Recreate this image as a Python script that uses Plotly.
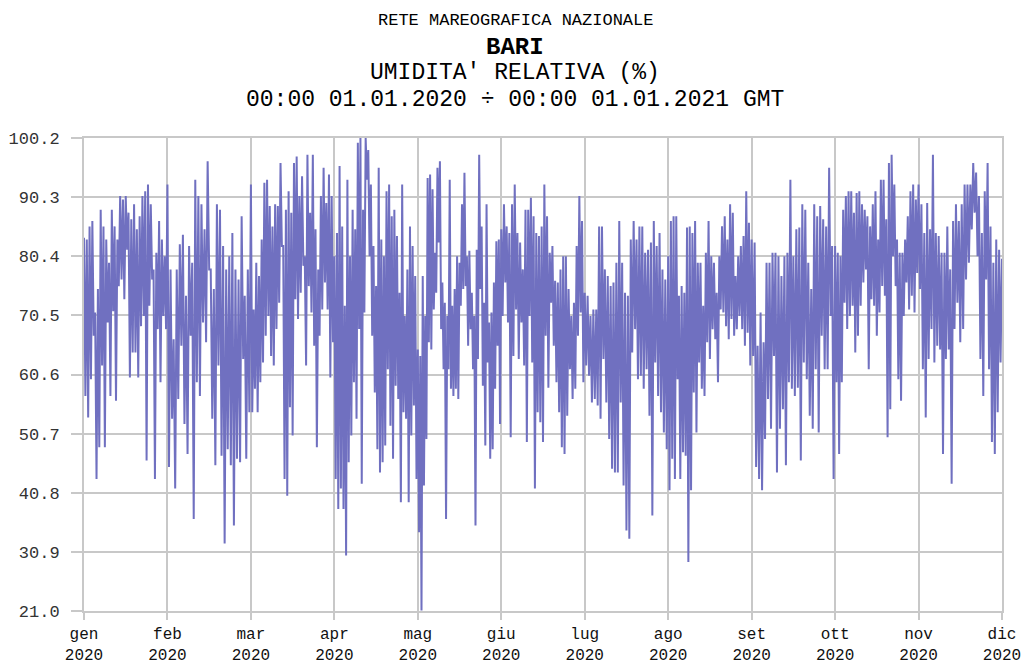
import plotly.graph_objects as go

months = ["gen", "feb", "mar", "apr", "mag", "giu", "lug", "ago", "set", "ott", "nov", "dic"]
year = "2020"
y_ticks = [21.0, 30.9, 40.8, 50.7, 60.6, 70.5, 80.4, 90.3, 100.2]

# relative humidity (%), alternating peak / trough readings, month by month
gen = [83.5, 57.0, 83.2, 53.4, 85.4, 59.8, 86.3, 67.1, 71.0, 43.1, 74.9, 48.4, 88.2, 62.1,
       85.4, 48.4, 83.2, 69.3, 79.3, 57.0, 88.2, 71.2, 85.4, 56.2, 83.2, 75.4, 90.5, 76.5,
       89.9, 73.2, 90.5, 81.5, 87.7, 60.1, 86.6, 64.3, 89.1, 64.3, 84.9, 60.1, 87.1, 68.7,
       90.5, 70.4, 91.3, 46.2, 92.4, 72.1, 89.1, 76.5, 78.2, 43.1, 81.0, 68.2, 86.3, 59.3,
       83.2, 70.4, 80.4, 68.2]
feb = [92.4, 45.1, 78.2, 53.2, 66.5, 41.5, 78.2, 56.5, 82.4, 65.4, 84.0, 52.3, 73.8, 47.3,
       82.1, 67.1, 79.3, 36.4, 93.2, 59.3, 90.5, 57.0, 89.1, 69.3, 84.9, 66.0, 96.3, 78.2,
       78.2, 53.2, 74.9, 45.4, 89.1, 62.1, 88.2, 47.0, 82.1, 32.3, 78.2, 48.1, 80.4, 45.4,
       84.3, 35.3, 78.2, 46.5, 76.5, 45.9, 87.1, 63.2, 73.8, 46.5, 78.2, 54.3]
mar = [92.4, 54.3, 71.5, 58.2, 79.3, 54.3, 77.1, 59.3, 83.2, 62.6, 92.7, 67.1, 93.2, 70.4,
       88.8, 63.7, 85.4, 62.1, 89.1, 68.2, 88.8, 72.6, 96.0, 82.1, 82.1, 43.1, 88.2, 40.3,
       91.3, 55.1, 87.7, 50.4, 96.0, 73.2, 97.1, 69.9, 90.5, 74.3, 93.8, 78.8, 80.4, 62.1,
       97.4, 75.4, 87.7, 71.0, 97.4, 65.4, 84.9, 48.4, 78.2, 67.1, 90.5, 71.5, 95.2, 76.0,
       89.3, 71.5, 94.1, 60.1, 90.5, 66.0]
apr = [80.4, 43.1, 84.3, 38.1, 95.5, 41.5, 85.4, 38.1, 72.1, 30.3, 93.2, 45.9, 80.4, 50.4,
       88.2, 59.3, 84.9, 53.2, 99.4, 68.2, 100.2, 42.3, 88.2, 71.0, 100.2, 93.2, 98.2, 80.4,
       92.4, 67.1, 82.1, 57.6, 75.4, 48.1, 95.2, 44.2, 83.2, 45.9, 80.4, 48.7, 91.3, 61.5,
       92.4, 52.0, 87.1, 46.5, 88.2, 58.7, 83.8, 56.5, 74.3, 39.2, 92.4, 54.3, 70.4, 53.2,
       78.2, 39.2, 85.4, 50.4, 82.1, 55.4, 77.1, 43.1]
mag = [64.8, 34.2, 63.7, 21.1, 77.1, 42.0, 70.4, 49.8, 93.5, 66.0, 94.1, 64.8, 91.6, 71.5,
       81.0, 74.3, 95.2, 82.7, 96.3, 68.2, 76.0, 61.5, 72.6, 36.4, 70.4, 61.5, 93.2, 58.2,
       72.1, 57.0, 74.9, 58.2, 80.4, 56.5, 79.3, 72.1, 89.1, 74.9, 94.4, 75.4, 80.4, 65.4,
       81.3, 68.2, 74.3, 61.5, 70.4, 35.3, 81.5, 63.2, 97.4, 74.9, 85.4, 58.7, 72.6, 48.7,
       89.1, 62.6, 69.3, 46.5, 71.0, 48.1, 76.0, 58.2, 82.9, 65.4, 83.2, 52.3]
giu = [84.9, 70.4, 89.1, 76.0, 85.4, 69.3, 84.3, 50.1, 89.1, 63.7, 92.4, 71.5, 84.3, 63.2,
       82.7, 69.3, 78.2, 62.1, 88.2, 49.3, 88.2, 70.4, 90.2, 62.6, 87.1, 41.5, 84.3, 54.3,
       83.8, 52.6, 85.4, 49.3, 92.4, 67.1, 87.1, 58.4, 81.0, 72.6, 82.1, 65.4, 76.3, 59.3,
       76.0, 54.3, 78.2, 48.4, 80.4, 47.3, 80.4, 53.7, 74.9, 61.5, 70.4, 56.5, 72.6, 58.2,
       82.1, 67.1, 90.5, 71.0, 86.3, 59.3]
lug = [74.3, 62.1, 73.8, 60.4, 70.4, 55.9, 71.5, 56.5, 71.5, 55.4, 85.4, 53.2, 85.4, 63.2,
       78.2, 55.9, 77.1, 49.8, 75.4, 44.8, 76.0, 44.2, 79.3, 44.2, 86.3, 55.9, 79.3, 42.0,
       74.3, 34.5, 73.8, 33.1, 83.2, 64.3, 86.3, 68.2, 83.2, 59.8, 85.4, 60.4, 85.4, 58.2,
       81.0, 61.5, 81.5, 53.7, 82.7, 37.0, 86.3, 62.6, 82.1, 57.0, 84.3, 54.3, 78.2, 50.9,
       76.5, 48.1]
ago = [80.4, 41.2, 86.3, 46.5, 87.1, 43.1, 87.1, 59.8, 73.8, 43.1, 75.4, 47.6, 74.3, 47.0,
       85.2, 29.2, 85.4, 41.2, 84.3, 57.6, 86.3, 50.9, 79.3, 62.6, 79.3, 58.2, 72.1, 57.0,
       81.0, 66.0, 86.3, 63.2, 80.4, 68.2, 79.3, 66.5, 74.3, 59.3, 80.4, 71.5, 85.4, 71.0,
       87.1, 68.7, 83.2, 66.5, 89.1, 69.9, 87.7, 67.1, 77.1, 68.2, 80.4, 70.4, 82.1, 68.2,
       83.8, 65.4, 91.3, 67.6, 86.0, 62.1]
set_ = [83.2, 63.7, 82.7, 45.1, 65.4, 43.1, 71.0, 41.2, 66.0, 49.8, 79.3, 56.5, 79.3, 51.5,
        81.0, 63.7, 81.0, 44.2, 80.4, 51.5, 77.1, 54.8, 80.4, 45.4, 81.0, 59.3, 93.2, 58.2,
        80.4, 57.0, 84.9, 58.4, 85.2, 46.2, 89.1, 62.6, 88.2, 59.8, 79.3, 53.7, 74.9, 51.5,
        89.1, 61.5, 87.1, 50.9, 88.8, 67.1, 86.6, 61.5, 85.4, 61.5, 95.2, 70.4, 82.1, 43.1]
ott = [82.1, 59.3, 81.0, 47.3, 80.4, 59.3, 88.2, 72.6, 90.5, 68.2, 91.3, 70.4, 91.3, 72.1,
       87.7, 64.3, 91.0, 67.1, 91.3, 72.1, 89.1, 76.0, 88.2, 78.2, 87.1, 61.5, 85.4, 73.2,
       89.1, 72.1, 91.3, 67.1, 83.2, 71.0, 93.2, 75.4, 93.2, 73.8, 86.6, 50.1, 96.0, 54.8,
       97.4, 80.4, 92.4, 75.4, 83.2, 59.8, 81.0, 56.2, 81.0, 70.4, 83.2, 76.0, 87.1, 71.5,
       91.3, 73.8, 92.4, 71.0, 89.9, 77.6]
nov = [92.4, 74.9, 89.1, 61.5, 84.3, 53.4, 89.3, 63.2, 84.9, 68.2, 97.4, 62.6, 84.3, 65.4,
       83.8, 64.8, 81.0, 47.3, 81.0, 63.2, 85.4, 64.8, 78.2, 42.3, 86.3, 68.2, 89.1, 72.6,
       86.3, 66.0, 89.1, 68.2, 92.4, 76.5, 92.4, 79.3, 92.4, 84.9, 96.0, 87.7, 94.4, 80.4,
       90.5, 63.2, 84.3, 57.0, 91.3, 76.5, 96.0, 61.5, 85.4, 49.3, 79.3, 47.3, 83.2, 54.3,
       81.5, 62.6]
dic = [80.0]

series = [gen, feb, mar, apr, mag, giu, lug, ago, set_, ott, nov, dic]

x, y = [], []
for i, vals in enumerate(series):
    n = len(vals)
    x += [i + k / n for k in range(n)]
    y += vals

fig = go.Figure()
fig.add_trace(go.Scatter(x=x, y=y, mode="lines", line=dict(color="#7070c0", width=2),
                         showlegend=False, hoverinfo="skip"))

grid = "#c8c8c8"
mono = "Liberation Mono"
fig.update_xaxes(
    range=[0, 11], tickvals=list(range(12)),
    ticktext=[f"{m}<br>{year}" for m in months],
    showgrid=True, gridcolor=grid, gridwidth=2,
    showline=True, linecolor=grid, linewidth=2, mirror=True,
    ticks="outside", ticklen=7, tickcolor=grid, tickwidth=2,
    tickfont=dict(family=mono, size=16, color="#111"), zeroline=False,
    automargin=False, ticklabeloverflow="allow",
)
fig.update_yaxes(
    range=[21.0, 100.2], tickvals=y_ticks, ticktext=[f"{v:.1f}" for v in y_ticks],
    showgrid=True, gridcolor=grid, gridwidth=2,
    showline=True, linecolor=grid, linewidth=2, mirror=True,
    ticks="outside", ticklen=11, tickcolor=grid, tickwidth=2, ticklabelstandoff=8,
    tickfont=dict(family=mono, size=17, color="#333"), zeroline=False,
    automargin=False, ticklabeloverflow="allow",
)

titles = [
    ("RETE MAREOGRAFICA NAZIONALE", 17, 20, False),
    ("BARI", 24, 47, True),
    ("UMIDITA' RELATIVA (%)", 23, 73, False),
    ("00:00 01.01.2020 ÷ 00:00 01.01.2021 GMT", 23, 100, False),
]
for text, size, ypx, bold in titles:
    fig.add_annotation(
        text=f"<b>{text}</b>" if bold else text,
        xref="paper", yref="paper", x=(515 - 84) / 918, y=1 + (138 - ypx) / 473,
        xanchor="center", yanchor="middle", showarrow=False,
        font=dict(family=mono, size=size, color="#000"),
    )

fig.update_layout(
    width=1022, height=666,
    margin=dict(l=84, r=20, t=138, b=55),
    paper_bgcolor="white", plot_bgcolor="white",
)

# drop the default page margin so the figure fills the window exactly
fig.write_html("out.html", config={"displayModeBar": False},
               post_script="document.body.style.margin = '0';")
